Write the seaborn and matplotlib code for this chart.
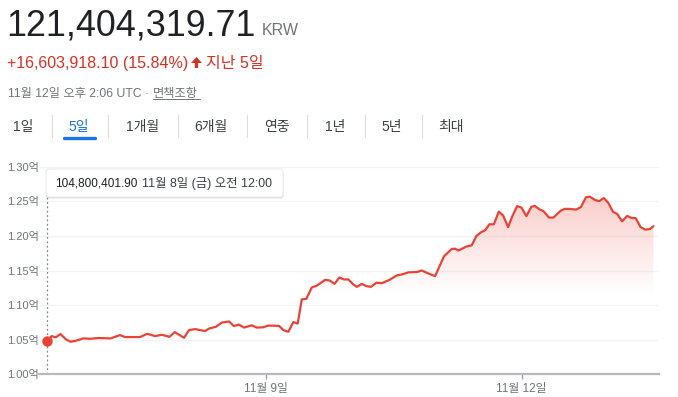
import numpy as np
import pandas as pd
import matplotlib
matplotlib.use("Agg")
import matplotlib.pyplot as plt
import matplotlib.colors as mcolors
from matplotlib.patches import FancyBboxPatch, FancyArrow
from matplotlib.lines import Line2D
from matplotlib.transforms import IdentityTransform
import seaborn as sns

# ---- data (price in 억 KRW, x in hours since first point) ----
hours = [0.0, 0.87, 1.66, 2.61, 3.70, 4.63, 5.82, 7.13, 8.46, 10.10,
         12.55, 14.40, 15.39, 18.36, 19.80, 21.33, 22.65, 24.20, 25.23, 27.07,
         28.06, 29.25, 30.24, 31.23, 32.08, 33.41, 34.53, 35.98, 36.93, 37.92,
         38.95, 40.48, 41.47, 42.71, 43.76, 45.88, 46.73, 47.72, 48.71, 49.58,
         50.38, 51.29, 52.36, 53.35, 54.99, 55.88, 56.87, 57.82, 58.75, 59.60,
         60.53, 61.27, 62.26, 63.17, 64.10, 65.15, 66.22, 67.72, 69.19, 70.24,
         71.49, 73.21, 74.14, 75.45, 76.77, 78.55, 80.08, 80.73, 81.39, 82.97,
         84.04, 84.95, 85.92, 86.67, 87.52, 88.40, 89.39, 90.24, 91.23, 92.06,
         93.01, 93.86, 94.85, 95.82, 96.48, 97.43, 98.22, 99.31, 100.20, 101.62,
         102.46, 103.41, 104.69, 105.64, 106.63, 107.41, 108.46, 109.31, 110.18, 111.09,
         112.02, 112.81, 113.80, 114.79, 115.72, 116.48, 117.43, 118.36, 119.29, 120.00]
prices = [1.0480, 1.0552, 1.0534, 1.0581, 1.0505, 1.0470, 1.0488, 1.0519, 1.0513, 1.0524,
          1.0519, 1.0567, 1.0538, 1.0538, 1.0586, 1.0552, 1.0571, 1.0542, 1.0610, 1.0528,
          1.0639, 1.0653, 1.0639, 1.0625, 1.0663, 1.0687, 1.0747, 1.0764, 1.0697, 1.0718,
          1.0675, 1.0708, 1.0675, 1.0679, 1.0704, 1.0700, 1.0639, 1.0614, 1.0754, 1.0733,
          1.1082, 1.1090, 1.1255, 1.1281, 1.1364, 1.1356, 1.1307, 1.1399, 1.1370, 1.1372,
          1.1302, 1.1264, 1.1307, 1.1274, 1.1264, 1.1324, 1.1317, 1.1364, 1.1428, 1.1444,
          1.1473, 1.1478, 1.1500, 1.1457, 1.1418, 1.1706, 1.1812, 1.1815, 1.1789, 1.1846,
          1.1865, 1.1999, 1.2055, 1.2081, 1.2168, 1.2168, 1.2351, 1.2295, 1.2127, 1.2283,
          1.2430, 1.2409, 1.2286, 1.2420, 1.2435, 1.2384, 1.2358, 1.2265, 1.2265, 1.2363,
          1.2391, 1.2389, 1.2381, 1.2416, 1.2557, 1.2567, 1.2518, 1.2503, 1.2547, 1.2474,
          1.2345, 1.2319, 1.2211, 1.2288, 1.2259, 1.2257, 1.2129, 1.2091, 1.2099, 1.2140]

y_ticks = [1.00, 1.05, 1.10, 1.15, 1.20, 1.25, 1.30]
x_tick_hours = [43.3, 93.9]
x_tick_labels = ["11월 9일", "11월 12일"]

current_price = 121404319.71
change = 16603918.10
change_pct = 15.84
timestamp = "11월 12일 오후 2:06 UTC · "
disclaimer = "면책조항"
tooltip_value = "104,800,401.90"
tooltip_date = "11월 8일 (금) 오전 12:00"
tabs = ["1일", "5일", "1개월", "6개월", "연중", "1년", "5년", "최대"]

# ---- layout / style ----
W, H = 678, 397
tab_x = [23, 79, 142.3, 211, 276.7, 335, 391.7, 450.7]
sep_x = [51.7, 108.3, 177.7, 246.7, 307.3, 365, 421.7]
red = "#ea4335"
gray = "#70757a"

df = pd.DataFrame({"hours": hours, "price": prices})

sns.set_theme(style="white")
plt.rcParams["font.family"] = ["Liberation Sans", "Noto Sans CJK KR", "DejaVu Sans"]


def fx(x):
    return x / W


def fy(y):
    return 1 - y / H


fig = plt.figure(figsize=(W / 100, H / 100), dpi=100)
fig.patch.set_facecolor("white")

ax = fig.add_axes([fx(39.3), fy(374.3), fx(659) - fx(39.3), fy(166.7) - fy(374.3)])
xmin, xmax = -1.58, 121.1

# gradient fill under the line
grad = np.zeros((256, 1, 4))
grad[..., :3] = mcolors.to_rgb(red)
levels = np.linspace(1.30, 1.00, 256)
grad[:, 0, 3] = np.clip((levels - 1.115) / (1.26 - 1.115), 0, 1) * 0.27
im = ax.imshow(grad, extent=[xmin, xmax, 1.00, 1.30], aspect="auto", origin="upper", zorder=1)
fb = ax.fill_between(df["hours"], df["price"], 1.0, color="none", lw=0)
im.set_clip_path(fb.get_paths()[0], transform=ax.transData)

sns.lineplot(data=df, x="hours", y="price", ax=ax, color=red, linewidth=1.6, zorder=3)

# hover guide + start dot
ax.axvline(df["hours"].iloc[0], ymin=0, ymax=0.854, color="#80868b", lw=0.9, ls=(0, (1.5, 2)), zorder=2)
ax.plot(df["hours"].iloc[0], df["price"].iloc[0], "o", color=red, ms=6.5, zorder=4)

ax.set_xlim(xmin, xmax)
ax.set_ylim(1.00, 1.30)
ax.set_yticks(y_ticks)
ax.set_yticklabels([f"{v:.2f}억" for v in y_ticks])
ax.set_xticks(x_tick_hours)
ax.set_xticklabels(x_tick_labels)
ax.set_xlabel("")
ax.set_ylabel("")
ax.grid(axis="y", color="#f1f3f4", lw=1)
ax.grid(axis="x", visible=False)
for s in ["left", "top", "right"]:
    ax.spines[s].set_visible(False)
ax.spines["bottom"].set_color("#b8b8bd")
ax.spines["bottom"].set_linewidth(1.6)
ax.tick_params(axis="y", length=0, pad=0.5, labelsize=8, labelcolor=gray)
ax.tick_params(axis="x", bottom=True, length=3.5, width=1, color="#9aa0a6", pad=2.5,
               labelsize=8.5, labelcolor=gray)
ax.set_facecolor("white")

# tooltip box
shadow = FancyBboxPatch((46.5, H - 198.5), 237, 28, boxstyle="round,pad=0,rounding_size=3",
                        transform=IdentityTransform(), fc="#000000", ec="none", alpha=0.12, zorder=5)
box = FancyBboxPatch((46, H - 197), 237, 28, boxstyle="round,pad=0,rounding_size=3",
                     transform=IdentityTransform(), fc="white", ec="#e6e6e6", lw=0.6, zorder=6)
fig.add_artist(shadow)
fig.add_artist(box)
fig.text(fx(55), fy(183.3), tooltip_value, fontsize=8.5, color="#202124", va="center", zorder=7)
fig.text(fx(141.7), fy(183.3), tooltip_date, fontsize=8.9, color="#3c4043", va="center", zorder=7)

# header
fig.text(fx(6), fy(36), f"{current_price:,.2f}", fontsize=25.8, color="#202124", va="baseline")
fig.text(fx(262), fy(35), "KRW", fontsize=11.5, color=gray, va="baseline")
fig.text(fx(7), fy(68.3), f"+{change:,.2f} ({change_pct:.2f}%)", fontsize=11.5, color="#d93025", va="baseline")
fig.add_artist(FancyArrow(196.5, H - 68, 0, 11, width=3.2, head_width=11, head_length=6,
                          length_includes_head=True, transform=IdentityTransform(),
                          color="#d93025", lw=0))
fig.text(fx(206.5), fy(68.3), "지난 5일", fontsize=11.5, color="#d93025", va="baseline")

fig.text(fx(8), fy(96.7), timestamp, fontsize=8.8, color=gray, va="baseline")
fig.text(fx(153.3), fy(96.7), disclaimer, fontsize=8.8, color=gray, va="baseline")
fig.add_artist(Line2D([fx(153.3), fx(200)], [fy(99.3), fy(99.3)], color=gray, lw=0.7))

# range tabs
for label, x in zip(tabs, tab_x):
    fig.text(fx(x), fy(126.7), label, fontsize=10, ha="center", va="center",
             color="#1a73e8" if label == "5일" else "#3c4043")
for x in sep_x:
    fig.add_artist(Line2D([fx(x), fx(x)], [fy(115), fy(136.7)], color="#dadce0", lw=0.8))
fig.add_artist(Line2D([fx(64), fx(94.5)], [fy(138.3), fy(138.3)], color="#1a73e8", lw=2.4,
                      solid_capstyle="round"))

fig.savefig("out.png", dpi=100, facecolor="white")
